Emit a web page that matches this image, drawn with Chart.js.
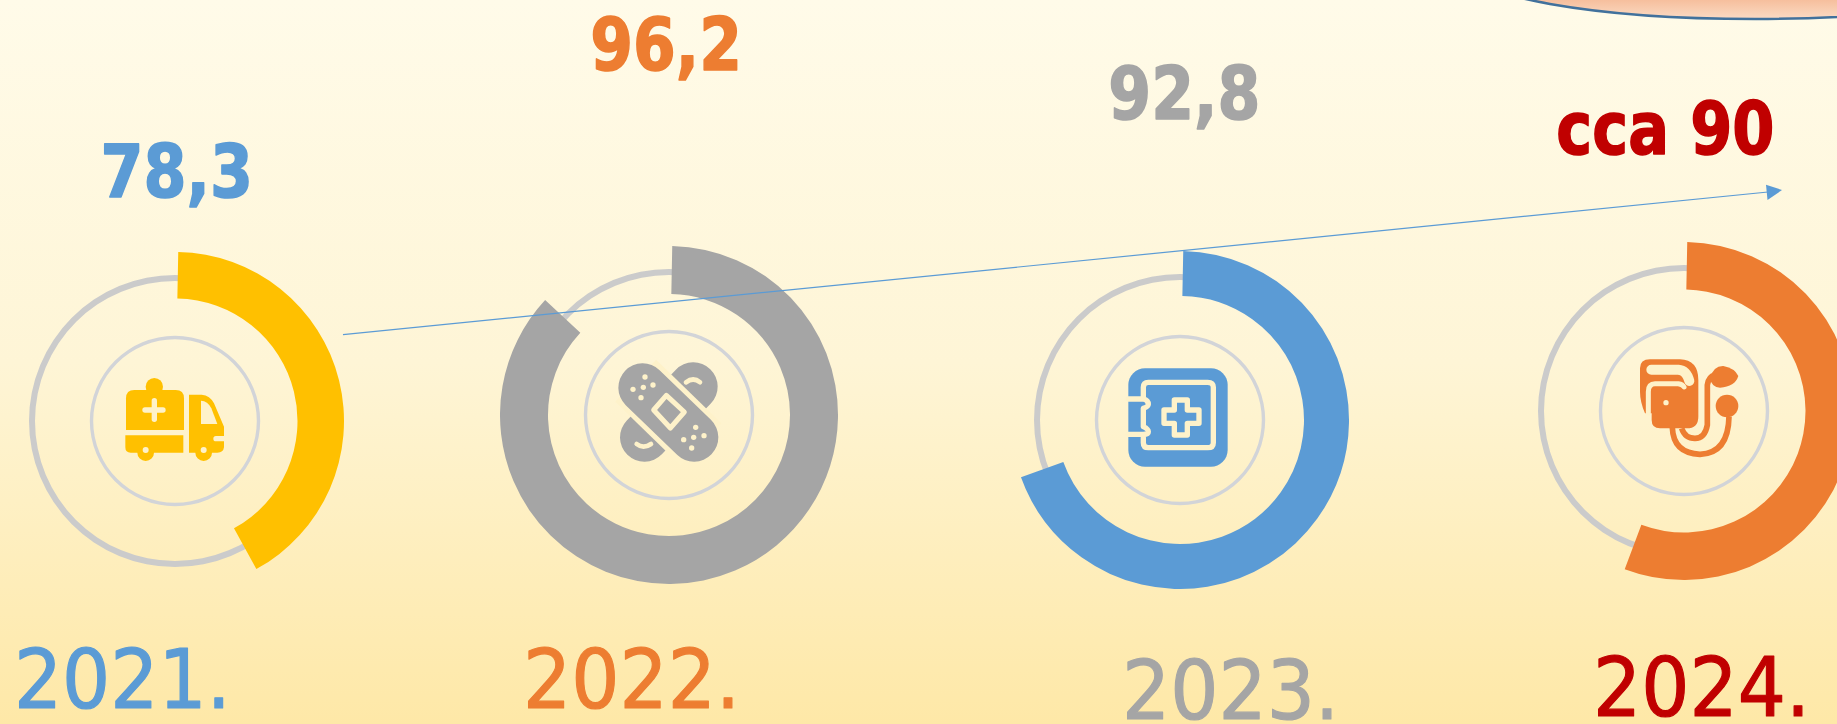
<!DOCTYPE html>
<html><head><meta charset="utf-8">
<script src="https://cdn.jsdelivr.net/npm/chart.js@4"></script>
<style>
html,body{margin:0;padding:0;width:1837px;height:724px}
#stage{position:absolute;left:0;top:0;width:1837px;height:724px;
 background:linear-gradient(to bottom,#fffbe9 0%,#fef5d6 50%,#fee8a7 100%)}
#charts{position:absolute;left:0;top:0;width:1837px;height:724px}
canvas{position:absolute}
svg{position:absolute}
</style></head><body><div id="stage">
<svg style="left:0;top:0" width="1837" height="724">
 <defs><linearGradient id="blob" gradientUnits="userSpaceOnUse" x1="0" y1="0" x2="0" y2="20"><stop offset="0" stop-color="#f6bf9d"/><stop offset="1" stop-color="#fbdcc6"/></linearGradient></defs>
 <ellipse cx="1755" cy="-32.5" rx="290" ry="51.5" fill="url(#blob)" stroke="#41719c" stroke-width="2.5"/>
</svg>
<div id="charts"></div>

<svg style="left:110px;top:360px" width="130" height="120" viewBox="0 0 390 360" id="i0">
 <g fill="#ffc000">
  <circle cx="133" cy="80" r="26"/>
  <path d="M48 210V115Q48 90 73 90H197Q222 90 222 115V210Z"/>
  <path d="M46 226H220V278H132A25 25 0 0 1 82 278H62Q46 278 46 262Z"/>
  <path d="M237 104H275Q300 106 312 130L342 200V228H318A8 8 0 0 0 318 244H342V262Q340 278 322 278H306A25 25 0 0 1 256 278H237Z"/>
 </g>
 <g fill="#fef2ca">
  <rect x="97" y="142" width="70" height="16" rx="8"/><rect x="125" y="114" width="16" height="72" rx="8"/>
  <path d="M273 122Q293 122 304 145L322 192H273Z"/>
  <circle cx="107" cy="270" r="9"/><circle cx="281" cy="270" r="9"/>
 </g>
</svg>

<svg style="left:605px;top:350px" width="130" height="130" viewBox="0 0 390 390" id="i1">
 <path stroke="#a5a5a5" stroke-width="146" stroke-linecap="round" d="M265 110L118 262"/>
 <path stroke="#fef2ca" stroke-width="176" stroke-linecap="butt" d="M92 92L288 283"/>
 <path stroke="#a5a5a5" stroke-width="146" stroke-linecap="round" d="M113 113L267 262"/>
 <polygon points="184,136 238,186 196,234 146,180" fill="#a5a5a5" stroke="#fef2ca" stroke-width="15" stroke-linejoin="round"/>
 <g fill="#fef2ca"><circle cx="120" cy="81" r="8"/><circle cx="84" cy="118" r="8"/><circle cx="115" cy="112" r="8"/><circle cx="144" cy="105" r="8"/><circle cx="108" cy="143" r="8"/>
  <circle cx="272" cy="232" r="8"/><circle cx="236" cy="269" r="8"/><circle cx="266" cy="262" r="8"/><circle cx="297" cy="257" r="8"/><circle cx="260" cy="294" r="8"/></g>
 <g fill="none" stroke="#fef2ca" stroke-width="14" stroke-linecap="round"><path d="M243 97Q265 80 285 97"/><path d="M95 282Q115 298 138 282"/></g>
</svg>

<svg style="left:1115px;top:355px" width="130" height="130" viewBox="0 0 390 390" id="i2">
 <rect x="40" y="40" width="298" height="295" rx="50" fill="#5b9bd5"/>
 <g fill="none" stroke="#fef2ca" stroke-width="16" stroke-linecap="round" stroke-linejoin="round">
  <path d="M85 125V97Q85 82 100 82H278Q295 82 295 97V263Q295 278 278 278H100Q85 278 85 263V248"/>
  <path d="M40 132H85Q100 135 100 148Q100 155 85 160V215Q100 222 100 230Q100 238 85 238H40"/>
 </g>
 <path fill="none" stroke="#fef2ca" stroke-width="16" stroke-linejoin="round" d="M178 135H217V165H252V205H217V240H178V205H147V165H178Z"/>
</svg>

<svg style="left:1620px;top:345px" width="130" height="130" viewBox="0 0 390 390" id="i3">
 <path fill="#ed7d31" d="M60 70Q60 43 90 43H180Q235 45 235 105V215Q235 250 200 250H120Q95 250 95 225V205H75Q60 170 60 140Z"/>
 <g fill="none" stroke="#fef2ca" stroke-linecap="round">
  <path stroke-width="30" d="M94 74H175Q200 76 208 108"/>
  <path stroke-width="15" d="M85 205V140Q85 116 105 116H175Q188 118 192 126"/>
 </g>
 <g fill="none" stroke="#ed7d31" stroke-width="17">
  <path d="M157 248Q160 325 240 328Q325 325 327 215"/>
  <path d="M185 250Q195 280 225 280Q255 280 262 240V120Q265 95 285 90"/>
 </g>
 <path fill="#ed7d31" d="M270 100Q280 62 310 63Q345 70 355 93Q345 125 300 128Q275 128 270 100Z"/>
 <circle cx="321" cy="183" r="34" fill="#ed7d31"/>
 <circle cx="138" cy="173" r="8" fill="#fef2ca"/>
</svg>

<svg style="left:0;top:0" width="1837" height="724">
 <line x1="343" y1="334.6" x2="1768" y2="192" stroke="#5b9bd5" stroke-width="1.2"/>
 <polygon points="1782,190 1766,184.7 1767.5,200" fill="#5b9bd5"/>
</svg>
<canvas id="labels" width="1837" height="724" style="left:0;top:0"></canvas>
</div>
<script>
// ---- data ----
const years = ['2021.', '2022.', '2023.', '2024.'];
const valueLabels = ['78,3', '96,2', '92,8', 'cca 90'];
const arcShare = [41.7, 86.6, 69.2, 55.4];   // share of the ring the thick arc covers, %
const arcColors = ['#ffc000', '#a5a5a5', '#5b9bd5', '#ed7d31'];
const valueColors = ['#5b9bd5', '#ed7d31', '#a5a5a5', '#c00000'];
const yearColors = ['#5b9bd5', '#ed7d31', '#a5a5a5', '#c00000'];

// ---- layout ----
const centres = [[175, 421], [669, 415], [1180, 420], [1684, 411]];
const arcOuter = 169;
const arcInner = [122.5, 121, 124, 121.5];
const arcStart = 1.1;
const trackOuter = 146, trackWidth = 6, innerOuter = 85.2, innerWidth = 3.4;
const valueBoxes = [[103, 249, 142, 199], [592, 738, 15, 72], [1110, 1258, 64, 121], [1558, 1773, 99, 156]];
const yearBoxes = [[18, 224, 647, 710], [528, 733, 646, 710], [1127, 1332, 657, 721], [1598, 1803, 654, 718]];
const PAGE_W = 1837;

const base = {
  responsive: false, animation: false, events: [],
  layout: {padding: 0},
  plugins: {legend: {display: false}, tooltip: {enabled: false}, title: {display: false}}
};
const host = document.getElementById('charts');
function canvasAt(cx, cy, r) {
  const c = document.createElement('canvas');
  c.width = c.height = r * 2;
  c.style.left = (cx - r) + 'px';
  c.style.top = (cy - r) + 'px';
  c.style.width = c.style.height = (r * 2) + 'px';
  host.appendChild(c);
  return c;
}
years.forEach((year, i) => {
  const [cx, cy] = centres[i];
  new Chart(canvasAt(cx, cy, trackOuter), {
    type: 'doughnut',
    data: {labels: [year], datasets: [
      {data: [100], backgroundColor: ['#cbcbcb'], borderWidth: 0, weight: trackWidth},
      {data: [100], backgroundColor: ['rgba(0,0,0,0)'], borderWidth: 0, weight: trackOuter - trackWidth - innerOuter},
      {data: [100], backgroundColor: ['#d2d4d8'], borderWidth: 0, weight: innerWidth}
    ]},
    options: {...base, cutout: innerOuter - innerWidth}
  });
  const cv = canvasAt(cx, cy, arcOuter);
  new Chart(cv, {
    type: 'doughnut',
    data: {labels: [year, ''], datasets: [
      {data: [arcShare[i], 100 - arcShare[i]], backgroundColor: [arcColors[i], 'rgba(0,0,0,0)'], borderWidth: 0}
    ]},
    options: {...base, cutout: arcInner[i], rotation: arcStart}
  });
  const over = cx + arcOuter - PAGE_W;
  if (over > 0) {
    const wrap = document.createElement('div');
    wrap.style.cssText = `position:absolute;left:${cx - arcOuter}px;top:${cy - arcOuter}px;width:${arcOuter * 2 - over}px;height:${arcOuter * 2}px;overflow:hidden`;
    host.appendChild(wrap);
    wrap.appendChild(cv);
    cv.style.left = '0'; cv.style.top = '0';
  }
});

// text drawn on a page-sized Chart.js layer, fitted to the measured ink boxes
const FONT = '"DejaVu Sans"';
function put(ctx, text, box, weight, color, stroke) {
  const x0 = box[0] + stroke / 2, x1 = box[1] - stroke / 2, top = box[2] + stroke / 2, bottom = box[3] - stroke / 2;
  ctx.save();
  ctx.font = weight + ' 100px ' + FONT;
  const h = ctx.measureText('0');
  const size = (bottom - top) / (h.actualBoundingBoxAscent + h.actualBoundingBoxDescent) * 100;
  ctx.font = weight + ' ' + size + 'px ' + FONT;
  const m = ctx.measureText(text), z = ctx.measureText('0');
  const sx = (x1 - x0) / (m.actualBoundingBoxLeft + m.actualBoundingBoxRight);
  ctx.textBaseline = 'alphabetic';
  ctx.textAlign = 'left';
  ctx.fillStyle = color; ctx.strokeStyle = color;
  ctx.lineWidth = stroke; ctx.lineJoin = 'round';
  ctx.translate(x0 + m.actualBoundingBoxLeft * sx, bottom - z.actualBoundingBoxDescent);
  ctx.scale(sx, 1);
  ctx.strokeText(text, 0, 0);
  ctx.fillText(text, 0, 0);
  ctx.restore();
}
new Chart(document.getElementById('labels'), {
  type: 'bar',
  data: {labels: years, datasets: [{data: []}]},
  options: {...base, scales: {x: {display: false}, y: {display: false}}},
  plugins: [{id: 'texts', afterDraw(chart) {
    valueLabels.forEach((t, i) => put(chart.ctx, t, valueBoxes[i], 700, valueColors[i], 1.6));
    years.forEach((t, i) => put(chart.ctx, t, yearBoxes[i], 400, yearColors[i], 1.2));
  }}]
});
</script>
</body></html>
